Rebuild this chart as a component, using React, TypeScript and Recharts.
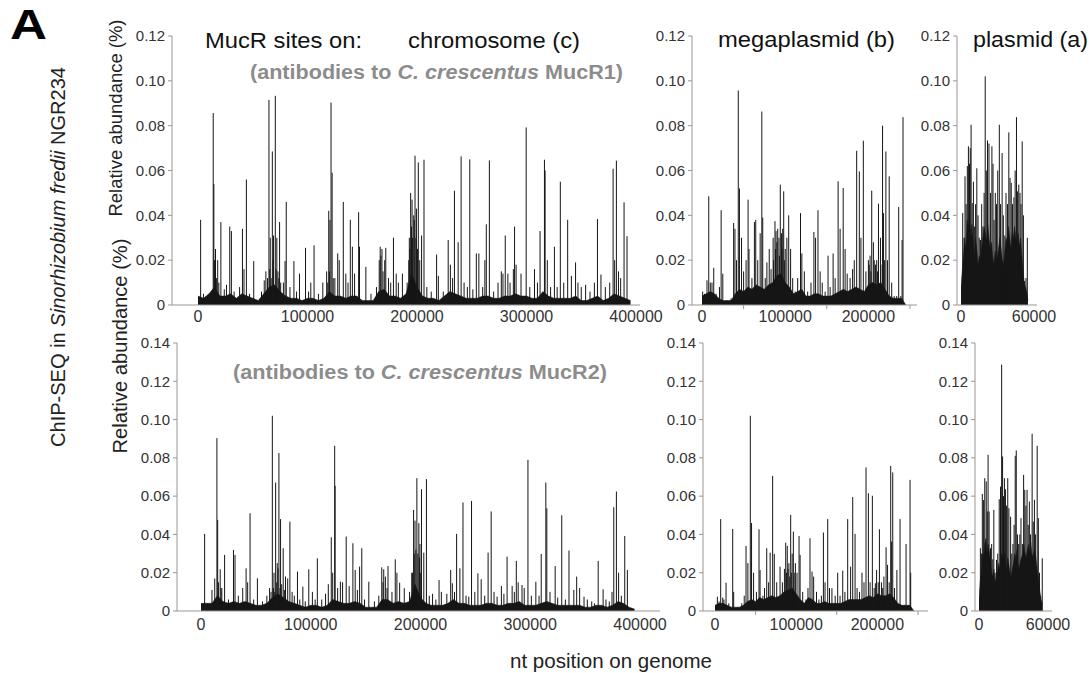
import React from "react";
import { ComposedChart, Bar, Area, XAxis, YAxis } from "recharts";

type Pt = [number, number];

// axis ticks
const chromTicks = [0, 100000, 200000, 300000, 400000];
const megaTicks = [0, 50000, 100000, 150000, 200000, 250000];
const megaLabels = [0, 100000, 200000];
const plasmidTicks = [0, 60000];
const topYTicks = [0, 0.02, 0.04, 0.06, 0.08, 0.1, 0.12];
const bottomYTicks = [0, 0.02, 0.04, 0.06, 0.08, 0.1, 0.12, 0.14];

// MucR1 antibodies - single peaks [nt position, relative abundance %]
const mucR1Chromosome: Pt[] = [
  [2400, 0.038], [5000, 0.005], [13900, 0.0856], [14500, 0.054], [15000, 0.02], [15800, 0.015],
  [16000, 0.025], [17000, 0.012], [18000, 0.02], [19000, 0.01],
  [20900, 0.037], [24000, 0.007], [26000, 0.009], [29000, 0.035], [30500, 0.033], [33000, 0.006],
  [38000, 0.008], [40600, 0.034], [42000, 0.016], [44200, 0.056], [47000, 0.005], [50900, 0.0196],
  [58000, 0.006], [60500, 0.011], [62000, 0.015], [63500, 0.012], [64800, 0.0915], [65500, 0.016],
  [66000, 0.03], [66800, 0.012], [67900, 0.0685], [68500, 0.02],
  [69000, 0.031], [70600, 0.0933], [71300, 0.016], [72000, 0.03], [73000, 0.015], [73800, 0.012],
  [74500, 0.037], [75500, 0.01], [78000, 0.01],
  [79500, 0.0196], [80600, 0.046], [84000, 0.008], [87600, 0.0196], [90000, 0.006], [92700, 0.014],
  [98200, 0.0255], [101000, 0.006], [103000, 0.01], [106000, 0.0266], [110000, 0.005], [114000, 0.01],
  [117500, 0.015], [118500, 0.01], [119400, 0.042], [120000, 0.015], [120500, 0.038], [121500, 0.0903],
  [122500, 0.059], [123500, 0.012], [125000, 0.012],
  [127600, 0.023], [129000, 0.02], [132700, 0.046], [135000, 0.014], [137000, 0.01], [139100, 0.038],
  [141000, 0.026], [143000, 0.014], [146700, 0.0414], [147500, 0.026], [153300, 0.017], [158000, 0.005],
  [163000, 0.008], [165500, 0.02], [166400, 0.026], [167000, 0.022], [168000, 0.025], [169000, 0.015],
  [170500, 0.02], [171500, 0.0255], [174000, 0.012], [176000, 0.01],
  [178500, 0.03], [181000, 0.014], [183000, 0.01], [186700, 0.014], [191000, 0.01], [192500, 0.02],
  [193000, 0.03], [193500, 0.025], [194200, 0.05], [195000, 0.035], [195500, 0.047], [196000, 0.03],
  [197000, 0.04], [197500, 0.038], [198200, 0.0666], [199000, 0.03], [199500, 0.043], [200500, 0.025],
  [201200, 0.0636],
  [202500, 0.02], [204200, 0.031], [206400, 0.0648], [209000, 0.008], [213000, 0.006], [217900, 0.0225],
  [219500, 0.013], [224000, 0.006], [228500, 0.029], [230500, 0.018], [232500, 0.012], [234200, 0.051],
  [237600, 0.028], [240300, 0.0663], [243000, 0.01], [246000, 0.008], [248200, 0.065], [251000, 0.007],
  [254200, 0.023], [256500, 0.023], [260000, 0.008], [262000, 0.02], [263300, 0.036], [266100, 0.0645],
  [270000, 0.006], [274000, 0.01], [277000, 0.015], [278500, 0.014], [280600, 0.031], [283000, 0.014],
  [285000, 0.01], [288000, 0.016], [289100, 0.035], [290500, 0.018], [295000, 0.014], [299700, 0.0792],
  [303000, 0.008], [307300, 0.016], [310000, 0.01], [312400, 0.033], [316400, 0.0648], [317000, 0.06],
  [319000, 0.02], [322000, 0.008], [325500, 0.026], [328000, 0.008], [330900, 0.055], [334000, 0.01],
  [337600, 0.038], [341000, 0.013], [344800, 0.019], [347000, 0.01], [350000, 0.008], [354000, 0.009],
  [358000, 0.006], [362000, 0.01], [364800, 0.0384], [368000, 0.0136], [372000, 0.008], [376000, 0.01],
  [379100, 0.0608], [380500, 0.02], [382100, 0.0644], [384000, 0.015], [386000, 0.012], [389100, 0.0458],
  [391800, 0.0307],
];

const mucR1Megaplasmid: Pt[] = [
  [800, 0.006], [3000, 0.005], [6000, 0.011], [8100, 0.0485], [10000, 0.01], [12000, 0.01],
  [14100, 0.0166], [17000, 0.005], [21000, 0.008], [23000, 0.0423], [25000, 0.014], [30000, 0.002],
  [35000, 0.003], [38000, 0.0366], [39600, 0.034], [41500, 0.02], [43600, 0.0957], [45000, 0.052],
  [47500, 0.03], [50000, 0.015], [53000, 0.02], [55400, 0.047], [56500, 0.025], [60000, 0.012],
  [63000, 0.037], [64600, 0.038], [67000, 0.02], [69900, 0.032], [71900, 0.0863], [73000, 0.039],
  [76000, 0.012], [78000, 0.019], [80800, 0.025], [83000, 0.016], [85500, 0.03], [86000, 0.02],
  [87700, 0.0374], [88300, 0.025],
  [89000, 0.033], [90000, 0.028], [91000, 0.034], [92500, 0.03], [93000, 0.022], [94100, 0.0537],
  [95500, 0.032], [96200, 0.025], [97000, 0.034],
  [98200, 0.0507], [99000, 0.02], [100000, 0.025], [102000, 0.03], [104200, 0.04], [106500, 0.025],
  [109000, 0.012],
  [112000, 0.006], [115000, 0.012], [118400, 0.041], [120000, 0.023], [123000, 0.015], [127000, 0.006],
  [131000, 0.01], [134500, 0.0326], [136500, 0.03], [139400, 0.0423], [142000, 0.015], [144500, 0.01],
  [148000, 0.006], [151500, 0.022], [154000, 0.008], [157600, 0.023], [160000, 0.012], [163600, 0.0552],
  [166000, 0.034], [169700, 0.0522], [172000, 0.025], [174500, 0.014], [178000, 0.012], [181000, 0.016],
  [183000, 0.02], [185900, 0.0688], [189100, 0.0596], [191000, 0.03], [193900, 0.0733], [197000, 0.015],
  [200000, 0.02], [201000, 0.018], [202000, 0.022], [203000, 0.015], [204000, 0.051], [206000, 0.028],
  [207000, 0.02], [208500, 0.018], [210000, 0.02], [211000, 0.015],
  [212100, 0.0452], [214500, 0.03], [215000, 0.018], [217000, 0.08], [218200, 0.041], [219500, 0.02],
  [221000, 0.0685], [223000, 0.02],
  [225000, 0.0574], [228000, 0.01], [231000, 0.004], [234000, 0.004], [236400, 0.0437], [239000, 0.004],
  [240500, 0.029], [241600, 0.0838],
];

const mucR1Plasmid: Pt[] = [
  [500, 0.005], [1400, 0.041], [2500, 0.03], [3300, 0.0574], [4200, 0.045], [5200, 0.062],
  [6100, 0.0708], [7000, 0.063], [7600, 0.07], [8300, 0.0804], [9200, 0.0455], [10200, 0.055],
  [11200, 0.035], [12000, 0.045], [13000, 0.061], [14000, 0.04], [15000, 0.03], [16000, 0.029],
  [17000, 0.045], [18000, 0.035], [19000, 0.05], [19900, 0.102], [20800, 0.06], [21800, 0.0734],
  [23000, 0.072], [24200, 0.05], [25400, 0.0708], [26300, 0.063], [27200, 0.038], [28200, 0.05],
  [29200, 0.045], [30200, 0.06], [31500, 0.0804], [32500, 0.045], [33800, 0.0678], [34800, 0.04],
  [36000, 0.031], [37000, 0.05], [38200, 0.045], [39300, 0.077], [40300, 0.0567], [41300, 0.0545],
  [42300, 0.045], [43500, 0.048], [44500, 0.06], [45600, 0.0838], [46500, 0.0507], [47500, 0.0537],
  [48500, 0.05], [49300, 0.045], [50300, 0.073], [51300, 0.04], [52300, 0.0107], [53400, 0.012],
  [54500, 0.03],
];

// MucR2 antibodies - single peaks
const mucR2Chromosome: Pt[] = [
  [3300, 0.0403], [6000, 0.004], [10000, 0.011], [12500, 0.017], [14500, 0.0903], [15200, 0.0476],
  [16000, 0.015], [17500, 0.0218], [18200, 0.012],
  [19000, 0.012], [21500, 0.0293], [25000, 0.006], [29600, 0.0319], [31000, 0.0293],
  [34000, 0.008], [38000, 0.012], [41100, 0.0223], [42500, 0.015], [44700, 0.0511], [48000, 0.006],
  [51400, 0.0171], [56000, 0.005], [60000, 0.008], [62500, 0.012], [63800, 0.01], [65000, 0.102],
  [66000, 0.012], [66500, 0.02], [67200, 0.01],
  [68000, 0.0671], [69000, 0.015], [69500, 0.025], [70200, 0.0223], [71000, 0.0825], [72000, 0.012],
  [72500, 0.048], [73500, 0.014], [74900, 0.0328], [76000, 0.011],
  [77000, 0.018], [79000, 0.017], [81000, 0.0467], [83000, 0.01], [85000, 0.008], [87900, 0.0206],
  [90000, 0.006], [92800, 0.0127], [95000, 0.005], [98200, 0.0218], [101500, 0.01], [104000, 0.006],
  [106000, 0.0275], [110000, 0.006], [113500, 0.009], [116000, 0.014], [118700, 0.0385], [120000, 0.02],
  [121800, 0.0863], [122200, 0.0654], [124500, 0.012], [127000, 0.0153], [129000, 0.015], [132300, 0.0389],
  [135000, 0.013], [138400, 0.0354], [140500, 0.0214], [142500, 0.011], [144500, 0.0232], [146500, 0.0328],
  [149000, 0.006], [152900, 0.0153], [158000, 0.005], [162000, 0.008], [164700, 0.0228], [165800, 0.015],
  [166500, 0.0218], [168000, 0.018], [169500, 0.012],
  [170400, 0.0235], [174000, 0.01], [177000, 0.027], [178500, 0.02], [181000, 0.0148], [185200, 0.0119],
  [190000, 0.01], [192000, 0.02], [192800, 0.02], [193700, 0.0528], [194300, 0.03], [195000, 0.0472],
  [195800, 0.032], [196700, 0.0694], [197600, 0.03], [198500, 0.0459],
  [199000, 0.028], [199500, 0.035], [200200, 0.02], [200900, 0.0636], [203000, 0.0305], [205400, 0.0689],
  [208000, 0.008], [211000, 0.009],
  [214000, 0.006], [216900, 0.0162], [219000, 0.01], [224000, 0.009], [227500, 0.0214], [229000, 0.0145],
  [231000, 0.01], [232900, 0.0403], [235900, 0.0223], [238700, 0.0567], [241500, 0.008], [244000, 0.0075],
  [246500, 0.0575], [249500, 0.01], [252300, 0.0197], [255300, 0.0166], [258500, 0.008], [261600, 0.0305],
  [264400, 0.052], [267000, 0.01], [269800, 0.0075], [273700, 0.0131], [276000, 0.009], [278900, 0.0284],
  [283500, 0.0131], [285500, 0.01], [287300, 0.0262], [289000, 0.015], [292500, 0.0136], [294500, 0.012],
  [297900, 0.079], [301000, 0.008], [305100, 0.0153], [308000, 0.008], [310000, 0.0298], [314200, 0.0671],
  [315100, 0.0537], [318000, 0.01], [322700, 0.0235], [325000, 0.007], [328700, 0.05], [332000, 0.006],
  [335300, 0.0316], [339700, 0.011], [342300, 0.018], [345000, 0.012], [349000, 0.0075], [352000, 0.006],
  [356000, 0.005], [358500, 0.004], [361900, 0.0262], [366400, 0.0113], [369000, 0.006], [372000, 0.005],
  [374500, 0.01], [376100, 0.0542], [378500, 0.0624], [380500, 0.02], [383000, 0.008], [386100, 0.0392],
  [388500, 0.0214],
];

const mucR2Megaplasmid: Pt[] = [
  [2900, 0.0075], [5000, 0.005], [7000, 0.048], [9500, 0.007], [11000, 0.006], [13600, 0.0148],
  [17000, 0.004], [21800, 0.0429], [23000, 0.01], [28000, 0.002], [33000, 0.004], [36000, 0.008],
  [38200, 0.034], [40500, 0.025], [43500, 0.102], [45000, 0.046], [47500, 0.02], [51000, 0.01],
  [54200, 0.0427], [55500, 0.0214], [59000, 0.008], [61000, 0.012], [63700, 0.0328], [66000, 0.015],
  [67900, 0.0305], [71000, 0.0706], [73000, 0.0298], [76000, 0.015], [80100, 0.0232], [83000, 0.015],
  [85500, 0.022], [87100, 0.0357], [88000, 0.02], [89000, 0.034], [90000, 0.022], [91000, 0.025],
  [92000, 0.018], [93200, 0.0502], [94000, 0.02], [95000, 0.03],
  [96500, 0.0415], [97500, 0.02], [99000, 0.025], [101000, 0.02], [103500, 0.0392], [104800, 0.0293],
  [108000, 0.01],
  [112000, 0.006], [114500, 0.012], [117000, 0.038], [119500, 0.0206], [121500, 0.018], [125000, 0.01],
  [128000, 0.006], [131000, 0.008], [133500, 0.041], [135500, 0.015], [138800, 0.048], [141000, 0.012],
  [144000, 0.0119], [148000, 0.008], [151100, 0.02], [154000, 0.008], [157300, 0.0211], [160000, 0.01],
  [163400, 0.048], [167000, 0.0232], [169600, 0.0595], [172500, 0.0403], [175000, 0.012], [178000, 0.01],
  [181000, 0.02], [183500, 0.015], [186000, 0.075], [188900, 0.0615], [191000, 0.015], [193800, 0.0602],
  [196000, 0.012], [197500, 0.0145], [199000, 0.0214], [201000, 0.015], [202500, 0.0427], [205000, 0.015],
  [206500, 0.012], [208000, 0.018],
  [210700, 0.0333], [212500, 0.0241], [214500, 0.015], [216400, 0.0758], [217500, 0.0363], [218900, 0.0724],
  [221000, 0.012],
  [224000, 0.0214], [227900, 0.048], [231000, 0.003], [233000, 0.003], [235300, 0.035], [238000, 0.003],
  [240200, 0.0685], [241000, 0.02],
];

const mucR2Plasmid: Pt[] = [
  [600, 0.006], [1200, 0.0328], [2100, 0.03], [2900, 0.0612], [4000, 0.058], [5000, 0.0694],
  [6300, 0.0677], [7200, 0.052], [7900, 0.0816], [8800, 0.052], [10000, 0.0328], [11000, 0.035],
  [12000, 0.027], [12900, 0.0528], [14000, 0.02], [15200, 0.0267], [16300, 0.03], [17600, 0.0584],
  [18700, 0.065], [19700, 0.1287], [20500, 0.0807], [21300, 0.06], [22100, 0.0694], [23000, 0.0636],
  [24000, 0.055], [25000, 0.0694], [26000, 0.0537], [27500, 0.0493], [28500, 0.03], [29500, 0.035],
  [30500, 0.045], [31500, 0.0811], [32400, 0.0839], [33500, 0.04], [34500, 0.035], [35500, 0.04],
  [36500, 0.0485], [37700, 0.035], [38800, 0.0711], [39800, 0.0633], [40800, 0.055], [41800, 0.0633],
  [42800, 0.045], [43800, 0.0572], [44800, 0.04], [46200, 0.0926], [47200, 0.0467], [48200, 0.0581],
  [49200, 0.04], [50600, 0.0863], [51600, 0.0485], [52600, 0.02], [53600, 0.008], [55000, 0.0275],
];

// background read level, one value per bin (5 kb bins for chromosome/megaplasmid, 1 kb for plasmid)
const mucR1ChromosomeFloor = [
  0.004, 0.003, 0.005, 0.008, 0.004, 0.004, 0.005, 0.003, 0.005, 0.004,
  0.003, 0.002, 0.005, 0.008, 0.009, 0.006, 0.004, 0.003, 0.003, 0.002,
  0.003, 0.003, 0.002, 0.003, 0.006, 0.004, 0.004, 0.003, 0.004, 0.004,
  0.002, 0.002, 0.002, 0.006, 0.007, 0.004, 0.004, 0.003, 0.005, 0.014,
  0.008, 0.004, 0.003, 0.003, 0.002, 0.004, 0.006, 0.005, 0.004, 0.003,
  0.003, 0.003, 0.004, 0.004, 0.003, 0.003, 0.004, 0.004, 0.005, 0.004,
  0.004, 0.003, 0.003, 0.006, 0.004, 0.003, 0.003, 0.003, 0.003, 0.004,
  0.002, 0.002, 0.003, 0.004, 0.002, 0.003, 0.005, 0.004, 0.003, 0.002,
];
const mucR2ChromosomeFloor = [
  0.004, 0.004, 0.004, 0.008, 0.005, 0.004, 0.005, 0.004, 0.005, 0.004,
  0.003, 0.003, 0.004, 0.007, 0.009, 0.007, 0.005, 0.004, 0.003, 0.002,
  0.003, 0.003, 0.002, 0.003, 0.006, 0.005, 0.004, 0.004, 0.005, 0.004,
  0.002, 0.002, 0.002, 0.006, 0.006, 0.004, 0.005, 0.004, 0.005, 0.014,
  0.007, 0.004, 0.003, 0.003, 0.003, 0.004, 0.006, 0.004, 0.004, 0.003,
  0.003, 0.003, 0.004, 0.004, 0.003, 0.003, 0.004, 0.004, 0.005, 0.003,
  0.003, 0.003, 0.004, 0.005, 0.004, 0.003, 0.003, 0.003, 0.003, 0.003,
  0.002, 0.002, 0.003, 0.003, 0.002, 0.003, 0.005, 0.004, 0.002, 0.001,
];
const mucR1MegaplasmidFloor = [
  0.004, 0.005, 0.006, 0.005, 0.003, 0.002, 0.002, 0.002, 0.005, 0.007,
  0.006, 0.008, 0.007, 0.009, 0.008, 0.007, 0.009, 0.01, 0.013, 0.014,
  0.01, 0.008, 0.005, 0.006, 0.007, 0.004, 0.004, 0.005, 0.005, 0.004,
  0.004, 0.004, 0.005, 0.006, 0.007, 0.006, 0.007, 0.008, 0.007, 0.006,
  0.009, 0.01, 0.009, 0.01, 0.007, 0.004, 0.003, 0.003, 0.003, 0,
];
const mucR2MegaplasmidFloor = [
  0.003, 0.004, 0.004, 0.003, 0.002, 0.002, 0.002, 0.003, 0.005, 0.006,
  0.005, 0.007, 0.006, 0.007, 0.008, 0.007, 0.008, 0.01, 0.011, 0.012,
  0.009, 0.006, 0.004, 0.007, 0.006, 0.004, 0.004, 0.005, 0.004, 0.004,
  0.004, 0.004, 0.005, 0.006, 0.006, 0.006, 0.006, 0.007, 0.008, 0.007,
  0.009, 0.008, 0.008, 0.009, 0.007, 0.004, 0.003, 0.003, 0.003, 0,
];
const mucR1PlasmidFloor = [
  0.008, 0.015, 0.022, 0.03, 0.025, 0.038, 0.035, 0.042, 0.03, 0.036,
  0.028, 0.022, 0.03, 0.025, 0.018, 0.022, 0.02, 0.026, 0.03, 0.035,
  0.032, 0.028, 0.036, 0.03, 0.025, 0.028, 0.022, 0.018, 0.024, 0.02,
  0.022, 0.026, 0.03, 0.025, 0.02, 0.018, 0.024, 0.03, 0.028, 0.035,
  0.03, 0.025, 0.032, 0.03, 0.035, 0.03, 0.028, 0.032, 0.026, 0.03,
  0.022, 0.015, 0.01, 0.008, 0.006, 0.002,
];
const mucR2PlasmidFloor = [
  0.006, 0.015, 0.02, 0.03, 0.028, 0.035, 0.038, 0.03, 0.035, 0.03,
  0.025, 0.02, 0.018, 0.022, 0.015, 0.018, 0.02, 0.025, 0.022, 0.028,
  0.03, 0.026, 0.03, 0.025, 0.022, 0.028, 0.024, 0.02, 0.018, 0.022,
  0.025, 0.03, 0.028, 0.032, 0.025, 0.022, 0.026, 0.028, 0.03, 0.035,
  0.03, 0.028, 0.032, 0.035, 0.03, 0.036, 0.03, 0.028, 0.032, 0.03,
  0.025, 0.02, 0.015, 0.01, 0.006, 0.004,
];

const INK = "#161616";
const AXIS = "#9c9696";
const LABEL = "#333";
const FONT = "'Liberation Sans', Arial, sans-serif";
const YW = 50; // y axis width
const MT = 14; // room above plot for top tick label
const MR = 36; // room right of plot for last x label
const XH = 32; // x axis height

const fmtY = (v: number) => (v === 0 ? "0" : v.toFixed(2));

function XTick(props: any) {
  const { x, y, payload, labels, gap } = props;
  const v = payload.value;
  if (labels && !labels.includes(v)) {
    // unlabeled minor tick
    return <line x1={x} x2={x} y1={y - gap - 4} y2={y - gap} stroke={AXIS} />;
  }
  return (
    <text x={x} y={y} dy="0.71em" textAnchor="middle" fontSize={16} fill={LABEL}>
      {v}
    </text>
  );
}

function PeakBar(props: any) {
  const { x, y, width, height } = props;
  if (!height || height <= 0 || isNaN(y)) return <g />;
  return <rect x={x + width / 2 - 0.5} y={y} width={1} height={height} fill={INK} />;
}

interface PanelProps {
  x: number; // y-axis position
  y: number; // top of plot
  w: number;
  h: number;
  peaks: Pt[];
  floor: number[];
  step: number;
  xMax: number;
  xTicks: number[];
  labels?: number[];
  padL: number;
  padR: number;
  yMax: number;
  yTicks: number[];
  gap: number;
}

function Panel({ x, y, w, h, peaks, floor, step, xMax, xTicks, labels, padL, padR, yMax, yTicks, gap }: PanelProps) {
  const rows = [
    ...floor.map((v, i) => ({ pos: i * step, floor: v, peak: null as number | null })),
    ...peaks.map(([pos, v]) => ({ pos, floor: null as number | null, peak: v })),
  ].sort((a, b) => a.pos - b.pos);

  return (
    <div style={{ position: "absolute", left: x - YW, top: y - MT }}>
      <ComposedChart
        width={w + YW + MR}
        height={h + MT + XH}
        data={rows}
        margin={{ top: MT, right: MR, bottom: 0, left: 0 }}
      >
        <XAxis
          type="number"
          dataKey="pos"
          domain={[0, xMax]}
          ticks={xTicks}
          interval={0}
          allowDataOverflow
          padding={{ left: padL, right: padR }}
          stroke={AXIS}
          tickLine={false}
          tickSize={4}
          tickMargin={gap}
          height={XH}
          tick={<XTick labels={labels} gap={gap} />}
        />
        <YAxis
          type="number"
          domain={[0, yMax]}
          ticks={yTicks}
          interval={0}
          allowDataOverflow
          width={YW}
          stroke={AXIS}
          tickSize={4}
          tickMargin={3}
          tick={{ fontSize: 15, fill: LABEL }}
          tickFormatter={fmtY}
        />
        <Area
          type="linear"
          dataKey="floor"
          connectNulls
          stroke={INK}
          strokeWidth={0.5}
          fill={INK}
          fillOpacity={1}
          dot={false}
          activeDot={false}
          isAnimationActive={false}
        />
        <Bar dataKey="peak" barSize={1} shape={<PeakBar />} isAnimationActive={false} />
      </ComposedChart>
    </div>
  );
}

export default function App() {
  return (
    <div
      style={{
        position: "absolute",
        left: 0,
        top: 0,
        width: 1092,
        height: 673,
        background: "#fff",
        fontFamily: FONT,
        overflow: "hidden",
      }}
    >
      {/* MucR1 row */}
      <Panel x={172} y={36} w={468} h={269} peaks={mucR1Chromosome} floor={mucR1ChromosomeFloor} step={5000}
        xMax={400000} xTicks={chromTicks} padL={26} padR={4} yMax={0.12} yTicks={topYTicks} gap={2} />
      <Panel x={692} y={36} w={225} h={269} peaks={mucR1Megaplasmid} floor={mucR1MegaplasmidFloor} step={5000}
        xMax={250000} xTicks={megaTicks} labels={megaLabels} padL={10} padR={7} yMax={0.12} yTicks={topYTicks} gap={2} />
      <Panel x={957} y={36} w={80} h={269} peaks={mucR1Plasmid} floor={mucR1PlasmidFloor} step={1000}
        xMax={60000} xTicks={plasmidTicks} padL={4} padR={3} yMax={0.12} yTicks={topYTicks} gap={2} />

      {/* MucR2 row */}
      <Panel x={177} y={343} w={483} h={268} peaks={mucR2Chromosome} floor={mucR2ChromosomeFloor} step={5000}
        xMax={400000} xTicks={chromTicks} padL={24} padR={20} yMax={0.14} yTicks={bottomYTicks} gap={4} />
      <Panel x={703} y={343} w={225} h={268} peaks={mucR2Megaplasmid} floor={mucR2MegaplasmidFloor} step={5000}
        xMax={250000} xTicks={megaTicks} labels={megaLabels} padL={12} padR={10} yMax={0.14} yTicks={bottomYTicks} gap={4} />
      <Panel x={975} y={343} w={77} h={268} peaks={mucR2Plasmid} floor={mucR2PlasmidFloor} step={1000}
        xMax={60000} xTicks={plasmidTicks} padL={4} padR={4} yMax={0.14} yTicks={bottomYTicks} gap={4} />

      <svg
        width={1092}
        height={673}
        style={{ position: "absolute", left: 0, top: 0, pointerEvents: "none" }}
        fontFamily={FONT}
      >
        <text x={10} y={39} fontSize={42} fontWeight={700} textLength={37} lengthAdjust="spacingAndGlyphs">A</text>
        <text x={205} y={48} fontSize={22} fill="#111" textLength={157} lengthAdjust="spacingAndGlyphs">MucR sites on:</text>
        <text x={408} y={48} fontSize={22} fill="#111" textLength={172} lengthAdjust="spacingAndGlyphs">chromosome (c)</text>
        <text x={718} y={47} fontSize={22} fill="#111" textLength={177} lengthAdjust="spacingAndGlyphs">megaplasmid (b)</text>
        <text x={973} y={47} fontSize={22} fill="#111" textLength={115} lengthAdjust="spacingAndGlyphs">plasmid (a)</text>
        <text x={250} y={79} fontSize={20} fontWeight={700} fill="#8c8c8c" textLength={373} lengthAdjust="spacingAndGlyphs">
          (antibodies to <tspan fontStyle="italic">C. crescentus</tspan> MucR1)
        </text>
        <text x={233} y={379} fontSize={20} fontWeight={700} fill="#8c8c8c" textLength={374} lengthAdjust="spacingAndGlyphs">
          (antibodies to <tspan fontStyle="italic">C. crescentus</tspan> MucR2)
        </text>
        <text transform="translate(122,118) rotate(-90)" textAnchor="middle" fontSize={19} fill="#222" textLength={197} lengthAdjust="spacingAndGlyphs">
          Relative abundance (%)
        </text>
        <text transform="translate(127,346) rotate(-90)" textAnchor="middle" fontSize={20} fill="#222" textLength={215} lengthAdjust="spacingAndGlyphs">
          Relative abundance (%)
        </text>
        <text transform="translate(65,257) rotate(-90)" textAnchor="middle" fontSize={20} fill="#222" textLength={380} lengthAdjust="spacingAndGlyphs">
          ChIP-SEQ in <tspan fontStyle="italic">Sinorhizobium fredii</tspan> NGR234
        </text>
        <text x={510} y={668} fontSize={20} fill="#222" textLength={202} lengthAdjust="spacingAndGlyphs">nt position on genome</text>
      </svg>
    </div>
  );
}
